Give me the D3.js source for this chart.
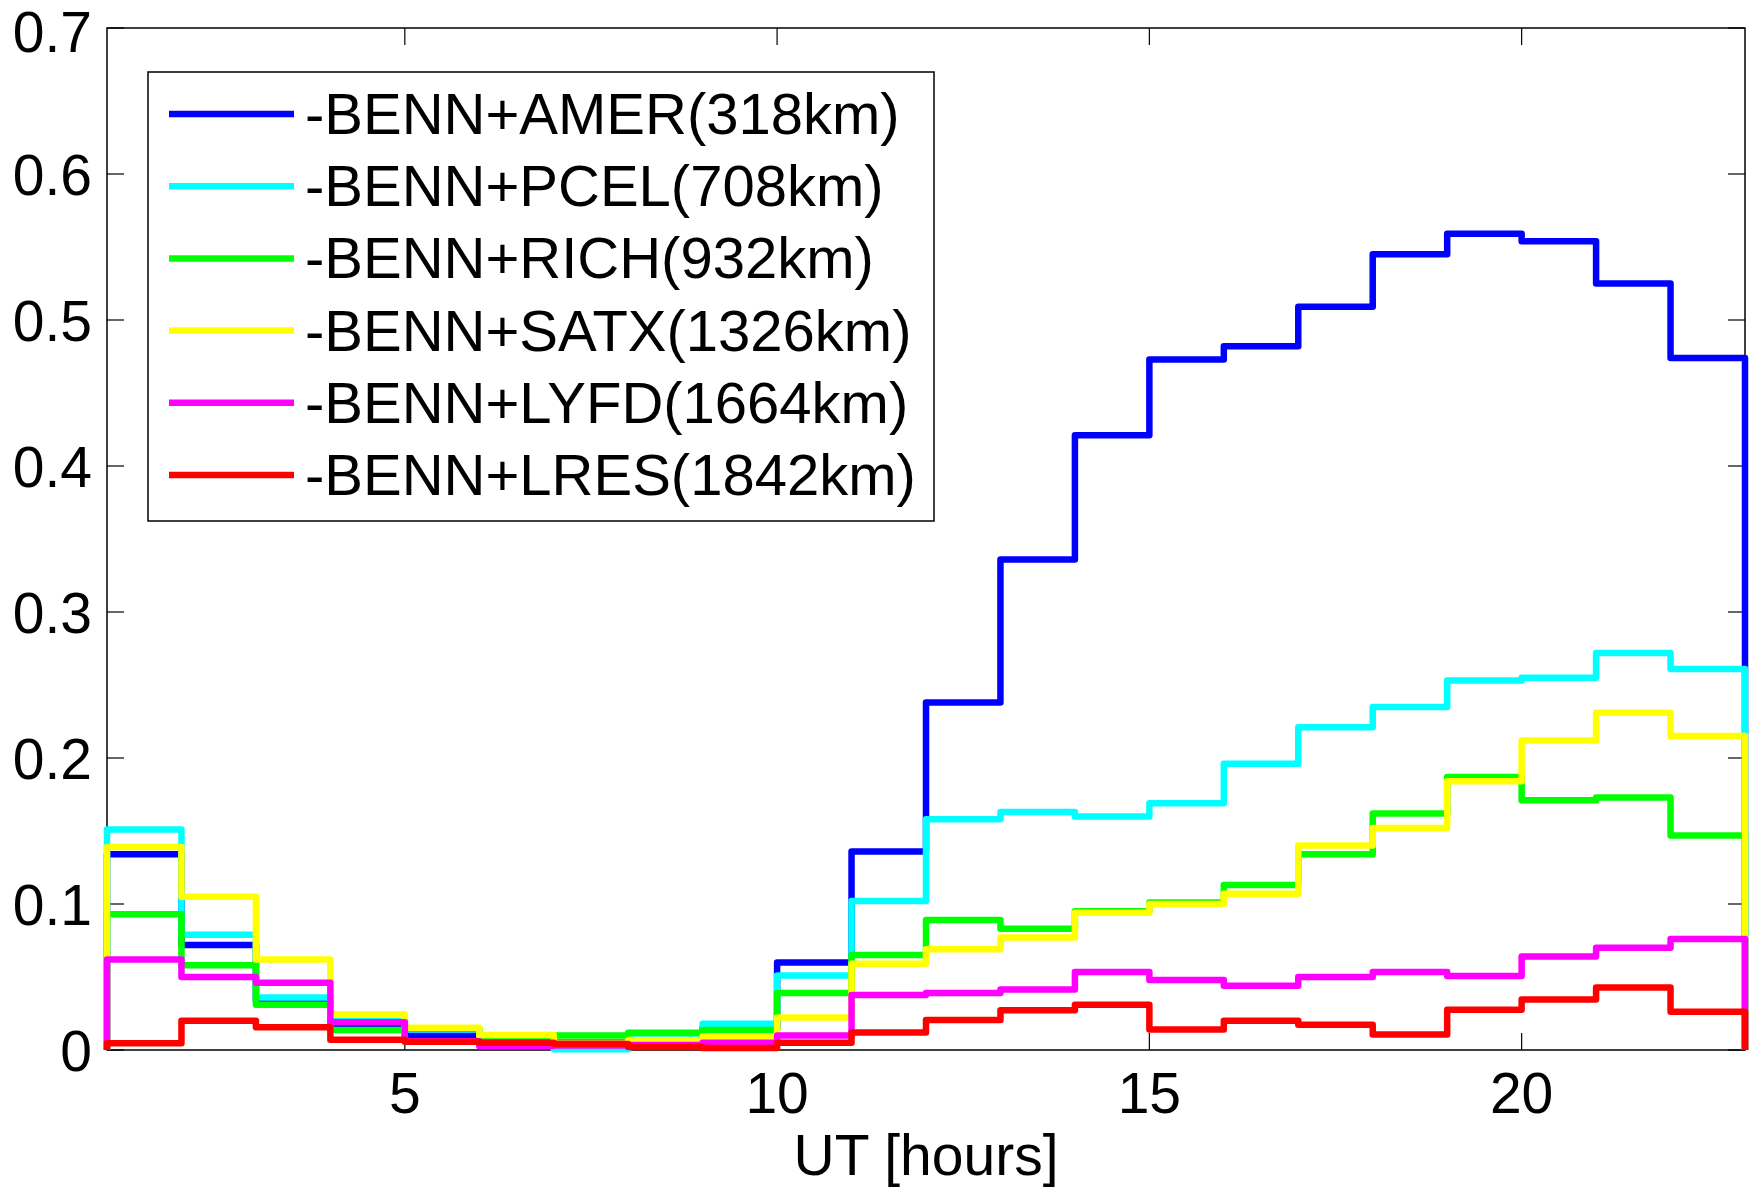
<!DOCTYPE html>
<html>
<head>
<meta charset="utf-8">
<script src="https://cdnjs.cloudflare.com/ajax/libs/d3/7.8.5/d3.min.js"></script>
<style>
  body { margin: 0; background: #fff; }
  text { font-family: "Liberation Sans", Arial, sans-serif; fill: #000; }
</style>
</head>
<body>
<div class="canvas"></div>
<script>
// hour bins 1..22 (each bin spans h -> h+1)
const hours = d3.range(1, 23);

const names = [
  '-BENN+AMER(318km)',
  '-BENN+PCEL(708km)',
  '-BENN+RICH(932km)',
  '-BENN+SATX(1326km)',
  '-BENN+LYFD(1664km)',
  '-BENN+LRES(1842km)'
];
const colors = ['#0000ff', '#00ffff', '#00ff00', '#ffff00', '#ff00ff', '#ff0000'];

const amer = [0.134, 0.072, 0.034, 0.017, 0.010, 0.006, 0.005, 0.006, 0.015, 0.060, 0.136,
  0.238, 0.336, 0.421, 0.473, 0.482, 0.509, 0.545, 0.559, 0.554, 0.525, 0.474];
const pcel = [0.151, 0.079, 0.036, 0.020, 0.014, 0.005, 0.0005, 0.011, 0.018, 0.051, 0.102,
  0.158, 0.163, 0.160, 0.169, 0.196, 0.221, 0.235, 0.253, 0.255, 0.272, 0.261];
const rich = [0.093, 0.058, 0.031, 0.0137, 0.0145, 0.0095, 0.010, 0.0118, 0.0137, 0.039, 0.065,
  0.089, 0.083, 0.095, 0.101, 0.113, 0.134, 0.162, 0.187, 0.171, 0.173, 0.147];
const satx = [0.139, 0.105, 0.062, 0.0244, 0.0153, 0.0102, 0.0045, 0.0068, 0.0093, 0.0223, 0.059,
  0.069, 0.077, 0.094, 0.100, 0.107, 0.140, 0.152, 0.184, 0.212, 0.231, 0.215];
const lyfd = [0.062, 0.050, 0.046, 0.019, 0.006, 0.0027, 0.003, 0.0034, 0.005, 0.010, 0.0377,
  0.039, 0.0415, 0.0535, 0.048, 0.044, 0.050, 0.0535, 0.0506, 0.064, 0.070, 0.076];
const lres = [0.0046, 0.020, 0.0155, 0.007, 0.0057, 0.005, 0.0041, 0.002, 0.0013, 0.005, 0.012,
  0.0205, 0.0273, 0.031, 0.014, 0.020, 0.0173, 0.0107, 0.0275, 0.0346, 0.0428, 0.0262];

const series = [amer, pcel, rich, satx, lyfd, lres];

const xTicks = [5, 10, 15, 20];
const yTicks = [0, 0.1, 0.2, 0.3, 0.4, 0.5, 0.6, 0.7];

const dims = { width: 1760, height: 1189 };
const plot = { left: 107, right: 1745, top: 28, bottom: 1050 };
const fontSize = 57;

const svg = d3
  .select('.canvas')
  .append('svg')
  .attr('width', dims.width)
  .attr('height', dims.height);

const x = d3.scaleLinear().domain([1, 23]).range([plot.left, plot.right]);
const y = d3.scaleLinear().domain([0, 0.7]).range([plot.bottom, plot.top]);

// frame (drawn under the data, like matlab)
svg
  .append('rect')
  .attr('x', plot.left)
  .attr('y', plot.top)
  .attr('width', plot.right - plot.left)
  .attr('height', plot.bottom - plot.top)
  .attr('fill', 'none')
  .attr('stroke', '#000')
  .attr('stroke-width', 1.5);

// inward ticks on all four sides
const tickLen = 17;
const ticks = svg.append('g').attr('stroke', '#000').attr('stroke-width', 1.2);

xTicks.forEach(t => {
  ticks.append('line')
    .attr('x1', x(t)).attr('x2', x(t))
    .attr('y1', plot.bottom).attr('y2', plot.bottom - tickLen);
  ticks.append('line')
    .attr('x1', x(t)).attr('x2', x(t))
    .attr('y1', plot.top).attr('y2', plot.top + tickLen);
});
yTicks.forEach(t => {
  ticks.append('line')
    .attr('x1', plot.left).attr('x2', plot.left + tickLen)
    .attr('y1', y(t)).attr('y2', y(t));
  ticks.append('line')
    .attr('x1', plot.right).attr('x2', plot.right - tickLen)
    .attr('y1', y(t)).attr('y2', y(t));
});

// tick labels
svg.append('g')
  .selectAll('text')
  .data(xTicks)
  .enter()
  .append('text')
  .attr('x', d => x(d))
  .attr('y', 1113)
  .attr('text-anchor', 'middle')
  .attr('font-size', fontSize)
  .text(d => d);

svg.append('g')
  .selectAll('text')
  .data(yTicks)
  .enter()
  .append('text')
  .attr('x', 92)
  .attr('y', d => Math.max(y(d), 31))
  .attr('dy', '0.36em')
  .attr('text-anchor', 'end')
  .attr('font-size', fontSize)
  .text(d => d3.format('~g')(d));

// axis title
svg.append('text')
  .attr('x', (plot.left + plot.right) / 2)
  .attr('y', 1175)
  .attr('text-anchor', 'middle')
  .attr('font-size', fontSize)
  .text('UT [hours]');

// stairs: start at 0 on the left edge, drop to 0 on the right edge
const stairs = d3
  .line()
  .x(d => x(d[0]))
  .y(d => y(d[1]))
  .curve(d3.curveStepAfter);

const toPoints = vals => {
  const pts = [[hours[0], 0]];
  hours.forEach((h, i) => pts.push([h, vals[i]]));
  pts.push([23, vals[vals.length - 1]]);
  pts.push([23, 0]);
  return pts;
};

svg.append('g')
  .selectAll('path')
  .data(series)
  .enter()
  .append('path')
  .attr('d', d => stairs(toPoints(d)))
  .attr('fill', 'none')
  .attr('stroke', (d, i) => colors[i])
  .attr('stroke-width', 6.5)
  .attr('stroke-linejoin', 'round');

// legend
const legend = svg.append('g');

legend.append('rect')
  .attr('x', 148)
  .attr('y', 72)
  .attr('width', 786)
  .attr('height', 449)
  .attr('fill', '#fff')
  .attr('stroke', '#000')
  .attr('stroke-width', 1.5);

const rows = legend
  .selectAll('g')
  .data(names)
  .enter()
  .append('g')
  .attr('transform', (d, i) => `translate(0, ${114 + i * 72.2})`);

rows.append('line')
  .attr('x1', 169)
  .attr('x2', 294)
  .attr('stroke', (d, i) => colors[i])
  .attr('stroke-width', 6.5);

rows.append('text')
  .attr('x', 305)
  .attr('y', 20)
  .attr('font-size', 58)
  .text(d => d);
</script>
</body>
</html>
